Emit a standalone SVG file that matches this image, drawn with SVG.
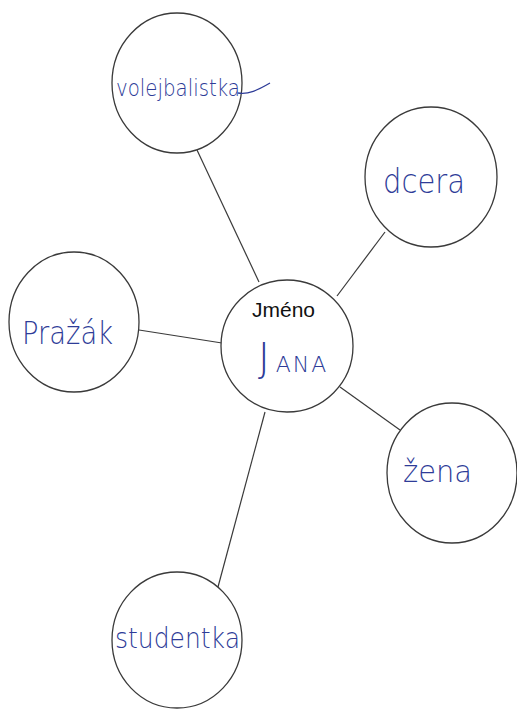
<svg xmlns="http://www.w3.org/2000/svg" width="517" height="709" viewBox="0 0 517 709">
<style>
.node ellipse{fill:#fff;stroke:#3a3a3a;stroke-width:1.3}
.hand{font-family:"DejaVu Sans","Liberation Sans",sans-serif;font-weight:200;fill:#2e3c98}
.print{font-family:"Liberation Sans",Arial,sans-serif;fill:#111}
#connectors line{stroke:#3a3a3a;stroke-width:1.2}
</style>
<rect width="517" height="709" fill="#fff"/>
<g id="connectors">
<line x1="197" y1="150" x2="259" y2="282"/>
<line x1="385" y1="232" x2="337" y2="296"/>
<line x1="139" y1="330" x2="222" y2="343"/>
<line x1="340" y1="387" x2="400" y2="430"/>
<line x1="265" y1="412" x2="218" y2="587"/>
</g>
<g id="node-volejbalistka" class="node">
<ellipse cx="177" cy="83" rx="65" ry="70"/>
<text class="hand" x="116" y="96" font-size="23" textLength="124" lengthAdjust="spacingAndGlyphs">volejbalistka</text>
<path d="M238 93 C248 95 258 90 270 83" fill="none" stroke="#2e3c98" stroke-width="1.3"/>
</g>
<g id="node-dcera" class="node">
<ellipse cx="431" cy="177" rx="66" ry="70"/>
<text class="hand" x="383" y="193" font-size="33" textLength="82" lengthAdjust="spacingAndGlyphs">dcera</text>
</g>
<g id="node-prazak" class="node">
<ellipse cx="74" cy="322" rx="65" ry="70"/>
<text class="hand" x="22" y="344" font-size="32" textLength="91" lengthAdjust="spacingAndGlyphs">Pražák</text>
</g>
<g id="node-jmeno" class="node">
<ellipse cx="287" cy="346" rx="66" ry="66"/>
<text class="print" x="252" y="317" font-size="20" textLength="63" lengthAdjust="spacingAndGlyphs">Jméno</text>
<text class="hand" x="258" y="372"><tspan font-size="40">J</tspan><tspan font-size="22" dx="6" letter-spacing="2">ANA</tspan></text>
</g>
<g id="node-zena" class="node">
<ellipse cx="452" cy="473" rx="65" ry="70"/>
<text class="hand" x="403" y="482" font-size="30" textLength="69" lengthAdjust="spacingAndGlyphs">žena</text>
</g>
<g id="node-studentka" class="node">
<ellipse cx="177" cy="640" rx="65" ry="68"/>
<text class="hand" x="115" y="648" font-size="28" textLength="125" lengthAdjust="spacingAndGlyphs">studentka</text>
</g>
</svg>
